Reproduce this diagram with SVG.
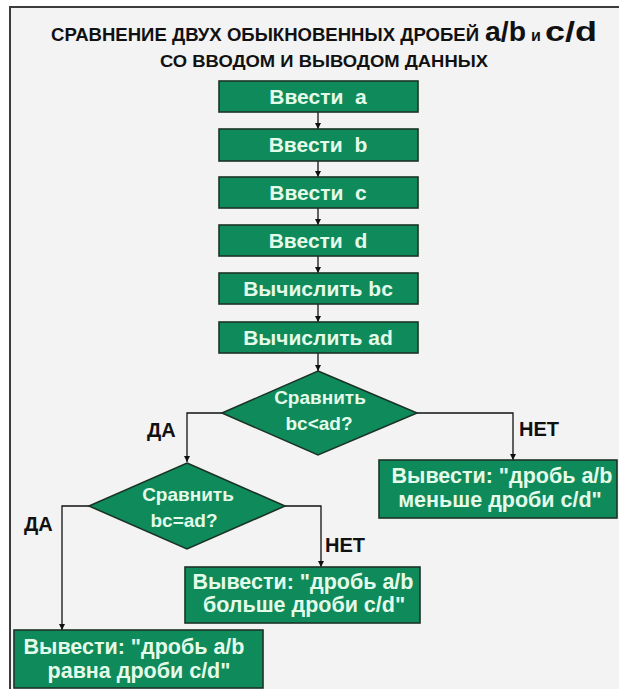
<svg xmlns="http://www.w3.org/2000/svg" width="619" height="689" viewBox="0 0 619 689">
<style>
.box{fill:#0f8a5b;stroke:#1b3327;stroke-width:1.6}
.t{font-family:"Liberation Sans",Arial,sans-serif;font-weight:bold;fill:#e4fbe9;text-anchor:middle}
.b{font-size:21px}
.dt{font-size:19px}
.ot{font-size:21.5px}
.lbl{font-family:"Liberation Sans",Arial,sans-serif;font-weight:bold;fill:#111;font-size:20px}
.title{font-family:"Liberation Sans",Arial,sans-serif;font-weight:bold;fill:#111}
.c{fill:none;stroke:#111;stroke-width:1.3}
</style>
<defs>
<marker id="ah" markerWidth="7" markerHeight="8" refX="6" refY="4" orient="auto" markerUnits="userSpaceOnUse">
<path d="M0,1 L6,4 L0,7 Z" fill="#111"/>
</marker>
</defs>
<rect x="0" y="0" width="619" height="689" fill="#ffffff"/>
<rect x="10" y="7" width="620" height="700" fill="#f3f3f3" stroke="#3c3c3c" stroke-width="2"/>
<g id="title">
<text class="title" x="51" y="41" font-size="18" textLength="428" lengthAdjust="spacingAndGlyphs">СРАВНЕНИЕ ДВУХ ОБЫКНОВЕННЫХ ДРОБЕЙ</text>
<text class="title" x="485" y="41" font-size="28" textLength="41" lengthAdjust="spacingAndGlyphs">a/b</text>
<text class="title" x="531" y="41" font-size="16">и</text>
<text class="title" x="545" y="41" font-size="28" textLength="52" lengthAdjust="spacingAndGlyphs">c/d</text>
<text class="title" x="324" y="67" font-size="17" text-anchor="middle" textLength="328" lengthAdjust="spacingAndGlyphs">СО ВВОДОМ И ВЫВОДОМ ДАННЫХ</text>
</g>
<g id="connectors">
<path class="c" d="M318,112 V129" marker-end="url(#ah)"/>
<path class="c" d="M318,161 V177" marker-end="url(#ah)"/>
<path class="c" d="M318,208 V225" marker-end="url(#ah)"/>
<path class="c" d="M318,256 V273" marker-end="url(#ah)"/>
<path class="c" d="M318,304 V322" marker-end="url(#ah)"/>
<path class="c" d="M318,353 V371" marker-end="url(#ah)"/>
<path class="c" d="M222,413 H187 V462" marker-end="url(#ah)"/>
<path class="c" d="M417,413 H513 V460" marker-end="url(#ah)"/>
<path class="c" d="M89,506 H62 V630" marker-end="url(#ah)"/>
<path class="c" d="M285,506 H321 V567" marker-end="url(#ah)"/>
</g>
<g id="n1"><rect class="box" x="219" y="81" width="199" height="31"/><text class="t b" x="318" y="104" xml:space="preserve">Ввести  a</text></g>
<g id="n2"><rect class="box" x="219" y="129" width="199" height="32"/><text class="t b" x="318" y="152" xml:space="preserve">Ввести  b</text></g>
<g id="n3"><rect class="box" x="219" y="177" width="199" height="31"/><text class="t b" x="318" y="200" xml:space="preserve">Ввести  c</text></g>
<g id="n4"><rect class="box" x="219" y="225" width="199" height="31"/><text class="t b" x="318" y="248" xml:space="preserve">Ввести  d</text></g>
<g id="n5"><rect class="box" x="219" y="273" width="199" height="31"/><text class="t b" x="318" y="296">Вычислить bc</text></g>
<g id="n6"><rect class="box" x="219" y="322" width="199" height="31"/><text class="t b" x="318" y="345">Вычислить ad</text></g>
<g id="d1"><polygon class="box" points="318,371 417,413 318,455 222,413"/>
<text class="t dt" x="320" y="404">Сравнить</text>
<text class="t dt" x="319" y="430">bc&lt;ad?</text></g>
<g id="d2"><polygon class="box" points="187,463 285,506 187,549 89,506"/>
<text class="t dt" x="188" y="501">Сравнить</text>
<text class="t dt" x="184" y="527">bc=ad?</text></g>
<g id="o1"><rect class="box" x="379" y="460" width="238" height="58"/>
<text class="t ot" x="502" y="483">Вывести: "дробь a/b</text>
<text class="t ot" x="500" y="507">меньше дроби c/d"</text></g>
<g id="o2"><rect class="box" x="185" y="567" width="235" height="56"/>
<text class="t ot" x="303" y="589">Вывести: "дробь a/b</text>
<text class="t ot" x="304" y="612">больше дроби c/d"</text></g>
<g id="o3"><rect class="box" x="14" y="630" width="249" height="58"/>
<text class="t ot" x="134" y="654">Вывести: "дробь a/b</text>
<text class="t ot" x="139" y="678">равна дроби c/d"</text></g>
<g id="labels">
<text class="lbl" x="147" y="437">ДА</text>
<text class="lbl" x="24" y="531">ДА</text>
<text class="lbl" x="519" y="436">НЕТ</text>
<text class="lbl" x="325" y="552">НЕТ</text>
</g>
</svg>
